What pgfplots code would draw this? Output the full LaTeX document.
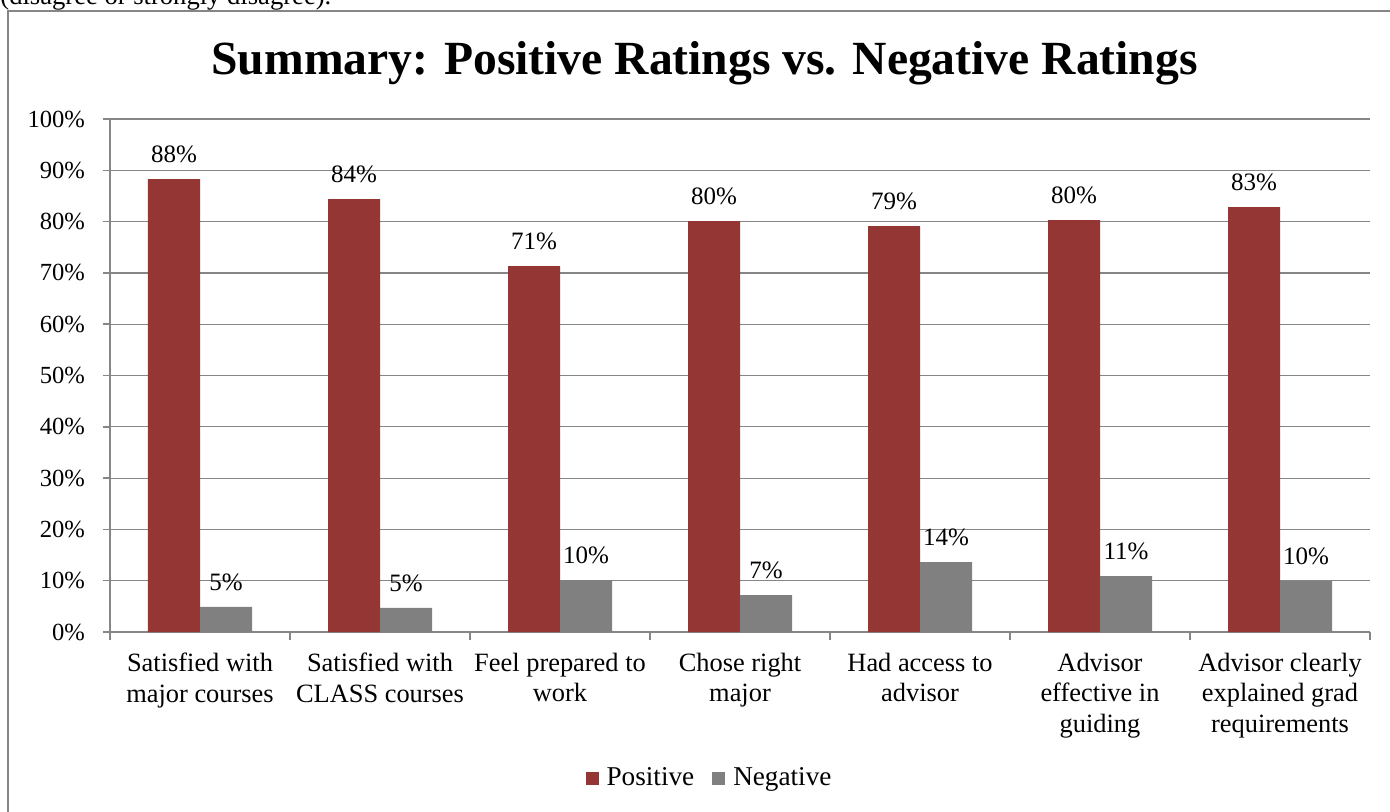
\documentclass[border=0pt]{standalone}
\usepackage{pgfplots}
\pgfplotsset{compat=1.18}
\usepackage{fontspec}
\setmainfont{Liberation Serif}
\definecolor{posred}{HTML}{943634}
\definecolor{neggray}{HTML}{808080}
\definecolor{linegray}{HTML}{868686}
\begin{document}
\begin{tikzpicture}
\useasboundingbox (0,0) rectangle (695pt,405.5pt);
\clip (0,0) rectangle (695pt,405.5pt);
\fill[white] (0,0) rectangle (695pt,405.5pt);
\node[anchor=base west, inner sep=0pt, font=\fontsize{13.3}{16}\selectfont] at (0pt,403pt) {(disagree or strongly disagree).};
\draw[linegray, line width=0.75pt] (4pt,-5pt) -- (4pt,400pt) -- (700pt,400pt);
\node[anchor=base, inner sep=0pt, font=\bfseries\fontsize{23.8}{28}\selectfont] at (352.3pt,368.5pt) {Summary: Positive Ratings vs. Negative Ratings};
\begin{axis}[
  at={(55pt,89.5pt)}, anchor=south west,
  scale only axis, width=630pt, height=256.5pt,
  ybar=0pt, bar width=26pt,
  xmin=-0.5, xmax=6.5, ymin=0, ymax=100,
  axis lines*=left,
  axis line style={linegray, line width=0.75pt, -},
  /pgf/number format/assume math mode=true,
  ytick={0,10,...,100},
  yticklabels={0\%,10\%,20\%,30\%,40\%,50\%,60\%,70\%,80\%,90\%,100\%},
  ymajorgrids,
  grid style={linegray, line width=0.6pt},
  xtick={0,...,6},
  xticklabels={Satisfied with\\major courses, Satisfied with\\CLASS courses, Feel prepared to\\work, Chose right\\major, Had access to\\advisor, Advisor\\effective in\\guiding, Advisor clearly\\explained grad\\requirements},
  minor xtick={-0.5,0.5,...,6.5},
  tick align=outside,
  major tick length=3.5pt,
  minor tick length=4pt,
  tick style={linegray, line width=0.75pt},
  major x tick style={draw=none},
  xticklabel style={align=center, font=\fontsize{13.2}{15.25}\selectfont, anchor=north, yshift=-3.5pt},
  yticklabel style={font=\fontsize{12.3}{14}\selectfont, xshift=-5.5pt},
  nodes near coords={\pgfmathprintnumber[fixed,precision=0]{\pgfplotspointmeta}\%},
  every node near coord/.append style={font=\fontsize{12.5}{14}\selectfont, black, yshift=4.5pt},
  legend style={draw=none, at={(0.4766,-0.2846)}, anchor=center, legend columns=2,
    font=\fontsize{13.6}{15}\selectfont,
    /tikz/every odd column/.append style={column sep=2pt},
    /tikz/every even column/.append style={column sep=7pt}},
  legend image code/.code={\fill[#1] (0pt,-3.25pt) rectangle (6.5pt,3.25pt);},
]
\addplot[fill=posred, draw=none] coordinates {(0,88.3) (1,84.4) (2,71.3) (3,80.1) (4,79.1) (5,80.3) (6,82.8)};
\addplot[fill=neggray, draw=none] coordinates {(0,4.9) (1,4.7) (2,10.1) (3,7.2) (4,13.6) (5,10.9) (6,9.9)};
\legend{Positive, Negative}
\end{axis}
\end{tikzpicture}
\end{document}
